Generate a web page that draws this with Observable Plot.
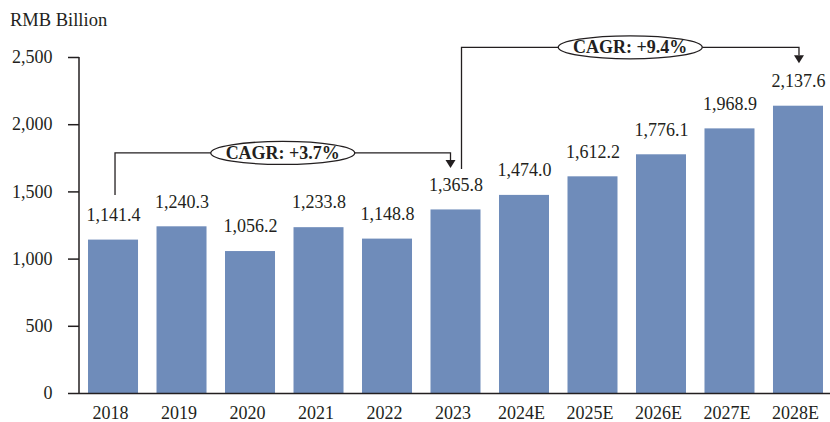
<!DOCTYPE html>
<html><head><meta charset="utf-8">
<script src="https://cdn.jsdelivr.net/npm/d3@7"></script>
<script src="https://cdn.jsdelivr.net/npm/@observablehq/plot@0.6"></script>
<style>
body{margin:0;background:#fff;}
#wrap{position:relative;width:830px;height:422px;font-family:"Liberation Serif","Times New Roman",serif;color:#231f20;}
#unit{position:absolute;left:10px;top:11px;font-size:18.5px;line-height:18px;}
#wrap svg{position:absolute;left:0;top:0;}
</style></head><body><div id="wrap"><div id="unit"></div></div>
<script>
const unitLabel = "RMB Billion";
const categories = ["2018","2019","2020","2021","2022","2023","2024E","2025E","2026E","2027E","2028E"];
const values = [1141.4,1240.3,1056.2,1233.8,1148.8,1365.8,1474.0,1612.2,1776.1,1968.9,2137.6];
const yTicks = [0,500,1000,1500,2000,2500];
const cagrLabels = ["CAGR: +3.7%","CAGR: +9.4%"];
const cagrFrom = ["2018","2023"];
const cagrTo = ["2023","2028E"];
const cagrStart = [1473,1667];
const cagrLevel = [1786,2572];
const cagrEnd = [1674,2453];

document.getElementById("unit").textContent = unitLabel;

const ink = "#231f20";
const barColor = "#6f8cba";
const bracketStyle = {startDx:[2,6], endDx:[-5,1], rx:72, ry:11.5, arrowH:8, arrowW:5};

const data = categories.map((c,i)=>({c, v: values[i]}));
const fmt = d3.format(",.1f");

function yAxisLine(index, scales, vals, dims){
  const g = d3.create("svg:g");
  g.append("line")
    .attr("x1", dims.marginLeft).attr("x2", dims.marginLeft)
    .attr("y1", scales.y(yTicks[yTicks.length-1])).attr("y2", scales.y(0))
    .attr("stroke", ink).attr("stroke-width", 1.5);
  return g.node();
}

function cagrMark(index, scales, vals, dims){
  const x = scales.x, y = scales.y;
  const bw = x.bandwidth ? x.bandwidth() : 0;
  const g = d3.create("svg:g");
  const s = bracketStyle;
  cagrLabels.forEach((label,i)=>{
    const xs = x(cagrFrom[i]) + bw/2 + s.startDx[i];
    const xe = x(cagrTo[i]) + bw/2 + s.endDx[i];
    const y0 = y(cagrStart[i]), yl = y(cagrLevel[i]), ye = y(cagrEnd[i]);
    g.append("path").attr("d", `M${xs},${y0}V${yl}H${xe}V${ye - s.arrowH}`)
      .attr("fill","none").attr("stroke",ink).attr("stroke-width",1.3);
    g.append("path").attr("d", `M${xe - s.arrowW},${ye - s.arrowH}H${xe + s.arrowW}L${xe},${ye}Z`)
      .attr("fill",ink);
    const cx = (xs + xe)/2;
    g.append("ellipse").attr("cx",cx).attr("cy",yl).attr("rx",s.rx).attr("ry",s.ry)
      .attr("fill","#fff").attr("stroke",ink).attr("stroke-width",1.3);
    g.append("text").attr("x",cx).attr("y",yl).attr("dy","0.34em")
      .attr("text-anchor","middle").attr("font-weight","bold").attr("font-size",18)
      .attr("fill",ink).text(label);
  });
  return g.node();
}

const chart = Plot.plot({
  width: 830, height: 422,
  marginTop: 57, marginBottom: 29, marginLeft: 79, marginRight: 0,
  style: {fontFamily: '"Liberation Serif","Times New Roman",serif', fontSize: "18px", color: ink, background: "transparent", overflow: "visible"},
  x: {domain: categories, paddingInner: 0.27, paddingOuter: 0.117, align: 0.5625, round: false, label: null},
  y: {domain: [0, 2500], label: null},
  marks: [
    Plot.barY(data, {x: "c", y: "v", fill: barColor}),
    Plot.axisY({ticks: yTicks, tickSize: 11, tickPadding: 16, tickFormat: d3.format(","), label: null, strokeWidth: 1.5}),
    Plot.axisX({tickSize: 0, tickPadding: 13, dx: -3, label: null}),
    Plot.ruleY([0], {stroke: ink, strokeWidth: 1.5}),
    yAxisLine,
    Plot.text(data, {x: "c", y: "v", text: d => fmt(d.v), dy: -25, fontSize: 18, fill: ink}),
    cagrMark
  ]
});
document.getElementById("wrap").appendChild(chart);
</script></body></html>
